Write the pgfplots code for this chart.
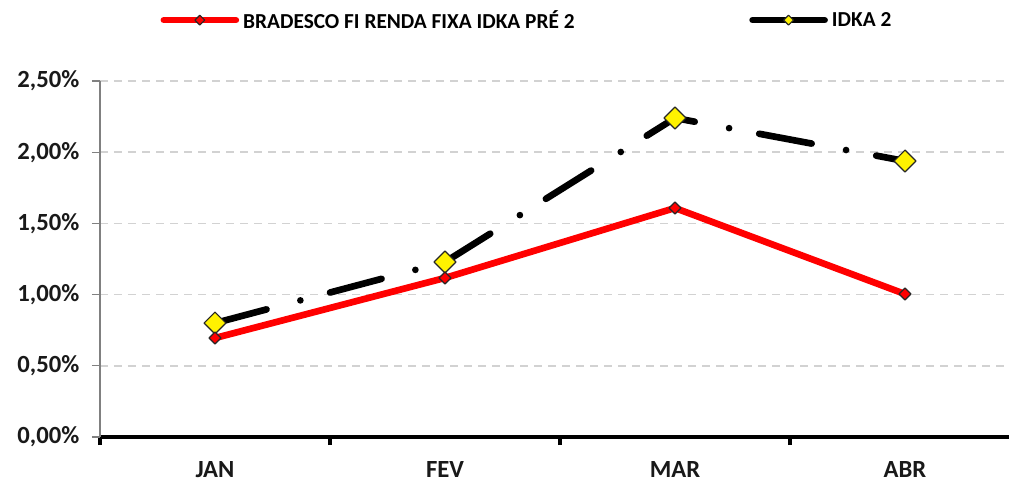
\documentclass[border=0pt]{standalone}
\usepackage{fontspec}
\setmainfont{Carlito}
\usepackage{pgfplots}
\pgfplotsset{compat=1.18}
\begin{document}
\begin{tikzpicture}
\begin{axis}[
  at={(0pt,0pt)}, anchor=south west,
  scale only axis, width=690pt, height=267pt,
  xmin=-0.5, xmax=3.5, ymin=0, ymax=2.5,
  axis x line*=bottom, axis y line*=left,
  x axis line style={-, black, line width=3pt},
  y axis line style={-, gray, line width=0.8pt},
  xtick={-0.5,0.5,1.5,2.5,3.5}, xticklabels={JAN,FEV,MAR,ABR},
  x tick label as interval,
  x tick style={draw=black, line width=3pt},
  ytick={0,0.5,1,1.5,2,2.5},
  yticklabels={{0,00\%},{0,50\%},{1,00\%},{1,50\%},{2,00\%},{2,50\%}},
  y tick style={gray, line width=0.8pt},
  major tick length=6pt,
  tick align=outside,
  ymajorgrids, grid style={gray!35, line width=1.2pt, dash pattern=on 6pt off 4.5pt},
  ticklabel style={font=\bfseries\fontsize{18.5}{20}\selectfont, text=black!90},
  yticklabel style={xshift=-6pt},
  xticklabel style={yshift=-9pt},
  legend style={at={(axis description cs:0.0655,1.171)}, anchor=west, draw=none, fill=none,
    inner sep=0pt, font=\bfseries\fontsize{16}{18}\selectfont,
    nodes={inner sep=3pt},
    /tikz/every even column/.append style={column sep=128pt}},
  legend columns=2,
  legend image code/.code={\draw[#1, solid, mark size=2.6pt, mark repeat=2, mark phase=2] plot coordinates {(0pt,0pt) (27pt,0pt) (54pt,0pt)};},
  every axis plot/.append style={line cap=round, line join=round},
]
\addlegendimage{red, line width=5pt, mark=square*, mark options={rotate=45, fill=red, draw=black!85, line width=0.9pt, solid}}
\addlegendentry{BRADESCO FI RENDA FIXA IDKA PRÉ 2}
\addlegendimage{black, line width=5pt, mark=square*, mark options={rotate=45, fill=yellow, draw=black!85, line width=0.9pt, solid}}
\addlegendentry{IDKA 2}
% IDKA 2
\addplot[forget plot, black, line width=5pt, dash pattern=on 40pt off 26.25pt on 0pt off 23pt,
  mark=square*, mark size=5.8pt,
  mark options={rotate=45, fill=yellow, draw=black!85, line width=0.9pt, solid}]
  coordinates {(0,0.80) (1,1.229) (2,2.24) (3,1.938)};
% BRADESCO
\addplot[forget plot, red, line width=5pt, mark=square*, mark size=3.2pt,
  mark options={rotate=45, fill=red, draw=black!85, line width=0.9pt, solid}]
  coordinates {(0,0.695) (1,1.117) (2,1.608) (3,1.004)};
\end{axis}
\pgfresetboundingbox
\path[use as bounding box] (-75pt,-33.75pt) rectangle (681.75pt,327.75pt);
\end{tikzpicture}
\end{document}
